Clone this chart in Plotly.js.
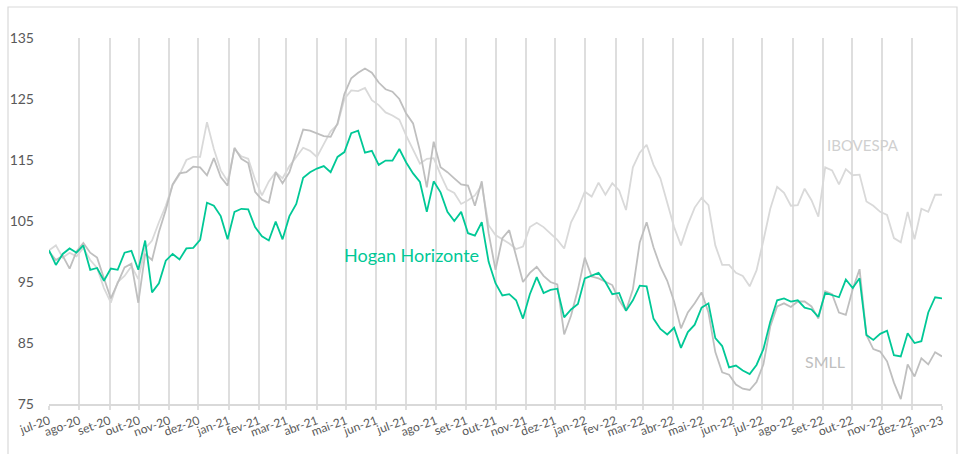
<!DOCTYPE html>
<html>
<head>
<meta charset="utf-8">
<script src="https://cdn.plot.ly/plotly-3.0.1.min.js"></script>
<style>
  html, body { margin: 0; padding: 0; background: #ffffff; }
  #chart { width: 959px; height: 454px; }
</style>
</head>
<body>
<div id="chart"></div>
<script>
// Period covered by the sampled series (uniform sampling grid, ~weekly)
const startDate = "2020-07-01";
const endDate = "2023-01-01";

// Month ticks
const tickDates = ["2020-07-01","2020-08-01","2020-09-01","2020-10-01","2020-11-01","2020-12-01",
  "2021-01-01","2021-02-01","2021-03-01","2021-04-01","2021-05-01","2021-06-01",
  "2021-07-01","2021-08-01","2021-09-01","2021-10-01","2021-11-01","2021-12-01",
  "2022-01-01","2022-02-01","2022-03-01","2022-04-01","2022-05-01","2022-06-01",
  "2022-07-01","2022-08-01","2022-09-01","2022-10-01","2022-11-01","2022-12-01","2023-01-01"];
const tickLabels = ["jul-20","ago-20","set-20","out-20","nov-20","dez-20",
  "jan-21","fev-21","mar-21","abr-21","mai-21","jun-21",
  "jul-21","ago-21","set-21","out-21","nov-21","dez-21",
  "jan-22","fev-22","mar-22","abr-22","mai-22","jun-22",
  "jul-22","ago-22","set-22","out-22","nov-22","dez-22","jan-23"];

// Series values (base 100)
const hogan = [100.2,97.8,99.6,100.5,99.8,101.0,97.0,97.3,95.2,97.2,
  97.0,99.8,100.1,97.0,101.8,93.3,94.8,98.5,99.6,98.7,
  100.5,100.6,101.9,108.0,107.5,105.8,102.0,106.5,107.0,106.9,
  104.0,102.5,101.8,104.9,102.0,105.8,107.8,112.1,113.0,113.6,
  114.0,113.0,115.5,116.3,119.4,119.8,116.2,116.5,114.2,114.9,
  114.9,116.8,114.6,112.8,111.4,106.5,111.5,109.7,106.5,105.0,
  106.5,103.0,102.6,104.8,98.3,94.8,92.8,93.0,92.0,89.0,
  93.0,95.8,93.2,93.7,93.9,89.2,90.5,91.4,95.6,96.0,
  96.5,95.0,93.0,93.2,90.3,92.0,94.4,94.3,89.0,87.3,
  86.4,87.5,84.2,86.8,88.0,90.8,91.5,85.8,84.5,81.0,
  81.3,80.5,79.9,81.4,84.0,88.5,92.0,92.3,91.8,92.0,
  90.8,90.5,89.3,93.2,92.8,92.5,95.4,94.0,95.6,86.3,
  85.5,86.5,87.0,83.0,82.8,86.6,85.0,85.3,90.0,92.5,92.3];

const ibovespa = [100.2,101.0,99.0,99.8,99.2,100.6,98.6,97.3,94.0,91.6,
  95.0,96.0,97.6,95.5,100.5,101.8,104.8,107.5,110.9,112.6,
  115.0,115.5,115.5,121.2,116.8,113.3,111.5,116.8,115.6,115.2,
  111.8,109.2,111.5,113.0,112.0,114.0,115.5,117.0,116.5,115.5,
  117.6,119.7,120.8,125.0,126.4,126.3,126.8,124.8,124.0,122.8,
  122.3,121.6,119.0,116.7,114.4,115.2,115.3,112.6,110.2,109.6,
  107.8,108.4,109.2,110.9,104.3,102.7,102.0,101.3,100.4,100.8,
  104.0,104.7,104.0,103.0,101.9,100.5,104.8,107.0,109.8,109.0,
  111.3,109.3,111.2,110.0,106.8,113.8,116.2,117.5,114.2,112.0,
  108.0,104.0,101.0,104.4,107.2,108.8,107.6,101.0,97.8,97.8,
  96.5,96.0,94.3,96.9,101.8,107.0,110.6,109.6,107.5,107.6,
  110.3,108.4,105.7,113.8,113.3,111.0,113.5,112.5,112.6,108.2,
  107.5,106.5,106.0,102.2,101.5,106.5,102.0,107.0,106.5,109.3,109.3];

const smll = [100.0,98.6,99.3,97.2,100.0,101.4,99.8,99.0,95.6,92.3,
  94.8,97.4,98.0,91.6,99.6,98.6,103.2,106.8,111.0,112.8,
  113.0,113.9,113.8,112.5,115.3,112.2,110.8,117.0,115.2,114.5,
  109.8,108.5,108.0,113.0,111.2,113.0,116.5,120.0,119.8,119.4,
  118.9,118.8,121.0,125.8,128.4,129.3,130.0,129.3,127.7,126.6,
  126.2,125.0,122.6,121.0,116.5,110.5,118.0,113.8,113.0,112.0,
  111.0,110.8,107.5,111.5,103.0,97.0,102.2,103.5,99.0,95.0,
  96.5,97.5,96.0,95.0,94.6,86.4,89.5,93.8,99.0,95.9,
  95.6,95.0,94.5,92.0,90.3,93.8,101.5,104.8,100.7,97.5,
  95.2,91.8,87.4,90.0,91.5,93.3,90.0,83.5,80.2,79.8,
  78.2,77.5,77.3,78.6,81.5,87.7,91.0,91.5,90.9,91.8,
  91.8,91.0,89.0,93.5,93.0,90.0,89.6,93.8,97.1,86.3,
  84.0,83.6,82.0,78.5,75.8,81.5,79.5,82.5,81.5,83.5,82.8];

// Sampling grid: evenly spaced dates between start and end
const t0 = Date.parse(startDate + "T00:00:00Z");
const t1 = Date.parse(endDate + "T00:00:00Z");
const n = hogan.length;
const dates = hogan.map((_, i) => new Date(t0 + i * (t1 - t0) / (n - 1)).toISOString().slice(0, 19));

const FONT = "Lato, 'Open Sans', sans-serif";
const green = "#00C896";
const ibovColor = "#d9d9d9";
const smllColor = "#bfbfbf";

const traces = [
  { x: dates, y: ibovespa, type: "scatter", mode: "lines", name: "IBOVESPA",
    line: { color: ibovColor, width: 1.8 }, hoverinfo: "skip" },
  { x: dates, y: smll, type: "scatter", mode: "lines", name: "SMLL",
    line: { color: smllColor, width: 1.8 }, hoverinfo: "skip" },
  { x: dates, y: hogan, type: "scatter", mode: "lines", name: "Hogan Horizonte",
    line: { color: green, width: 1.8 }, hoverinfo: "skip" }
];

const layout = {
  width: 959, height: 454,
  margin: { l: 49, r: 17, t: 38, b: 50 },
  paper_bgcolor: "#ffffff", plot_bgcolor: "#ffffff",
  showlegend: false,
  font: { family: FONT, color: "#595959" },
  xaxis: {
    type: "date",
    range: [startDate, endDate],
    tickmode: "array", tickvals: tickDates, ticktext: tickLabels,
    tickangle: -20,
    tickfont: { family: FONT, size: 12, color: "#595959" },
    showgrid: true, gridcolor: "#dedede", gridwidth: 2,
    showline: true, linecolor: "#d9d9d9", linewidth: 1.5,
    ticks: "outside", ticklen: 4, tickcolor: "#dedede", tickwidth: 2,
    zeroline: false, fixedrange: true
  },
  yaxis: {
    range: [75, 135], tickmode: "linear", tick0: 75, dtick: 10,
    showgrid: false, zeroline: false, showline: false,
    ticks: "", ticklabelstandoff: 14,
    tickfont: { family: FONT, size: 14, color: "#595959" },
    fixedrange: true
  },
  annotations: [
    { x: "2021-04-27", y: 99.4, xref: "x", yref: "y", text: "Hogan Horizonte",
      showarrow: false, xanchor: "left", yanchor: "middle",
      font: { family: FONT, size: 18, color: green } },
    { x: "2022-09-03", y: 117.5, xref: "x", yref: "y", text: "IBOVESPA",
      showarrow: false, xanchor: "left", yanchor: "middle",
      font: { family: FONT, size: 15, color: "#d0d0d0" } },
    { x: "2022-08-12", y: 81.9, xref: "x", yref: "y", text: "SMLL",
      showarrow: false, xanchor: "left", yanchor: "middle",
      font: { family: FONT, size: 16, color: "#bfbfbf" } }
  ],
  shapes: [
    { type: "rect", xref: "paper", yref: "paper",
      x0: -0.0459, x1: 1.0168, y0: -0.14, y1: 1.0847,
      line: { color: "#d9d9d9", width: 1.2 }, fillcolor: "rgba(0,0,0,0)", layer: "below" }
  ]
};

Plotly.newPlot("chart", traces, layout, { staticPlot: true, displayModeBar: false });
</script>
</body>
</html>
